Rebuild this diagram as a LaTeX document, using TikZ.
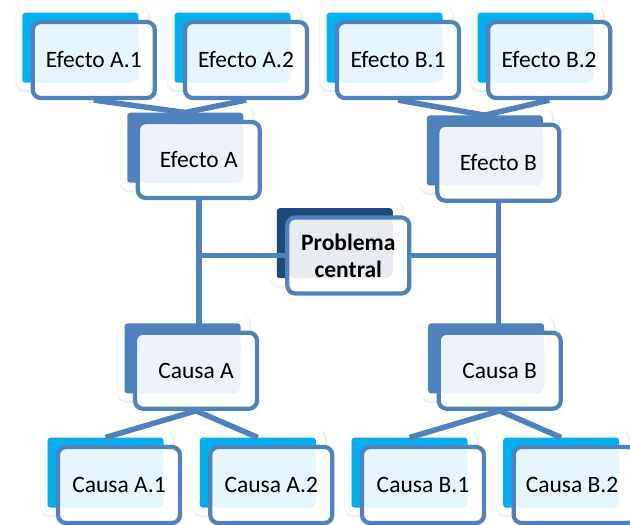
\documentclass[tikz,border=0pt]{standalone}
\usepackage{fontspec}
\setmainfont{Carlito}
\usetikzlibrary{
  shadows,
  calc,
  backgrounds
}
\definecolor{arAzul}{HTML}{4F81BD}
\definecolor{arCian}{HTML}{00B0F0}
\definecolor{arOscuro}{HTML}{1F497D}
\definecolor{arClaroCian}{HTML}{E5F5FD}
\definecolor{arClaroAzul}{HTML}{EDF2F9}
\definecolor{arClaroGris}{HTML}{E8EBF0}
\pgfdeclarelayer{capaFondo}
\pgfdeclarelayer{capaRama}
\pgfsetlayers{capaFondo,capaRama,main}
\tikzset{
  sombra/.style={
    fill=white, rounded corners=9pt, minimum width=132pt, minimum height=85pt, inner sep=0pt,
    drop shadow={shadow xshift=1pt, shadow yshift=-1.5pt, shadow scale=1.02, opacity=.12}
  },
  fondo/.style={rounded corners=3pt, minimum width=116pt, minimum height=70pt, inner sep=0pt},
  frente/.style={
    draw=arAzul, line width=4.2pt, fill=white, rounded corners=8pt,
    minimum width=122pt, minimum height=76pt, inner sep=0pt, align=center,
    font=\fontsize{23.5pt}{27pt}\selectfont
  },
  rama/.style={draw=arAzul, line width=5.5pt}
}
\def\arbolItems{
  efA1/93.8/60/arCian/arClaroCian/{Efecto A.1},
  efA2/246/60/arCian/arClaroCian/{Efecto A.2},
  efB1/398/60/arCian/arClaroCian/{Efecto B.1},
  efB2/549.2/60/arCian/arClaroCian/{Efecto B.2},
  efA/198.8/160/arAzul/arClaroAzul/{Efecto A},
  efB/498.3/162.7/arAzul/arClaroAzul/{Efecto B},
  pc/348.3/255.5/arOscuro/arClaroGris/{\textbf{Problema}\\\textbf{central}},
  caA/196/370.7/arAzul/arClaroAzul/{Causa A},
  caB/499.7/370.7/arAzul/arClaroAzul/{Causa B},
  caA1/119/485/arCian/arClaroCian/{Causa A.1},
  caA2/271.3/485/arCian/arClaroCian/{Causa A.2},
  caB1/423/485/arCian/arClaroCian/{Causa B.1},
  caB2/574.7/485/arCian/arClaroCian/{Causa B.2}
}

\begin{document}
\begin{tikzpicture}[x=1pt, y=-1pt]
  \useasboundingbox (0,0) rectangle (630,525);
  \clip (0,0) rectangle (630,525);
  \begin{pgfonlayer}{capaFondo}
    \fill[white] (0,0) rectangle (630,525);
    \foreach \n/\x/\y/\c/\l/\t in \arbolItems{\node[sombra] (\n-s) at ({\x-12.5},{\y-12.5}) {};}
    \foreach \n/\x/\y/\c/\l/\t in \arbolItems{\node[fondo, fill=\c] (\n-b) at ({\x-13.5},{\y-12.3}) {};}
  \end{pgfonlayer}
  \foreach \n/\x/\y/\c/\l/\t in \arbolItems{
    \node[frente, path picture={\fill[\l] (path picture bounding box.north west) rectangle (\n-b.south east);}] (\n) at (\x,\y) {\t};
  }
  \begin{pgfonlayer}{capaRama}
    \foreach \h/\p in {efA1/efA,efA2/efA,efB1/efB,efB2/efB}{\draw[rama] (\h.south) -- (\p-b.north);}
    \foreach \p/\h in {caA/caA1,caA/caA2,caB/caB1,caB/caB2}{\draw[rama] (\p.south) -- (\h-b.north);}
    \draw[rama] (efA.south) -- (efA.south |- caA.north);
    \draw[rama] (efB.south) -- (efB.south |- caB.north);
    \draw[rama] (pc.west) -- (pc.west -| efA.south);
    \draw[rama] (pc.east) -- (pc.east -| efB.south);
  \end{pgfonlayer}
\end{tikzpicture}
\end{document}
